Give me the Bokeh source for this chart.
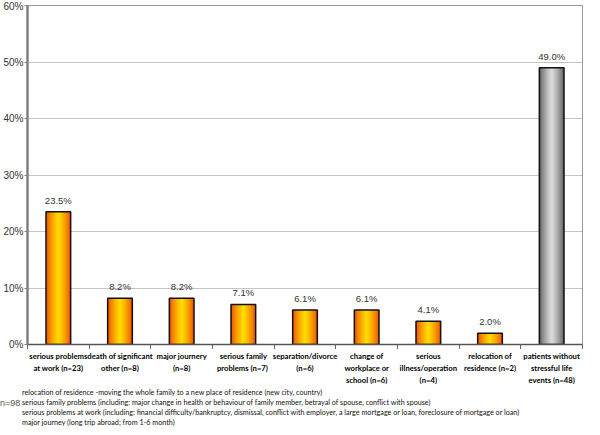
from bokeh.plotting import figure
from bokeh.layouts import column
from bokeh.models import ColumnDataSource, FixedTicker, Range1d, Div
from bokeh.core.properties import value
from bokeh.embed import file_html
from bokeh.resources import INLINE

# ---- data ----
categories = [
    "serious problems\nat work (n=23)",
    "death of significant\nother (n=8)",
    "major journery\n(n=8)",
    "serious family\nproblems  (n=7)",
    "separation/divorce\n(n=6)",
    "change of\nworkplace or\nschool (n=6)",
    "serious\nillness/operation\n(n=4)",
    "relocation of\nresidence (n=2)",
    "patients without\nstressful life\nevents (n=48)",
]
percent = [23.5, 8.2, 8.2, 7.1, 6.1, 6.1, 4.1, 2.0, 49.0]
is_reference_group = [False, False, False, False, False, False, False, False, True]
y_ticks = [0, 10, 20, 30, 40, 50, 60]
footnotes = [
    "relocation of residence -moving the whole  family  to a new place of residence (new city, country)",
    "serious family  problems (including:  major change in health or behaviour of family  member, betrayal of spouse, conflict with spouse)",
    "serious problems at work (including:  financial difficulty/bankruptcy,  dismissal,  conflict with employer,  a large mortgage or loan, foreclosure of mortgage or loan)",
    "major journey (long trip abroad; from 1-6 month)",
]
n_total = "n=98"

# ---- styles / layout constants ----
W = 584
H1, H2, H3 = 349, 36, 34
LEFT, RIGHT = 22, 2
BAR_W = 0.4
N_LEVELS = 12
LINE1_Y, LINE_PITCH = 6, 12

def mix(c1, c2, t):
    return "#%02x%02x%02x" % tuple(int(round(a + (b - a) * t)) for a, b in zip(c1, c2))

ORANGE_EDGE = (238, 80, 0)
ORANGE_MID = (255, 218, 0)
GRAY_EDGE = (95, 95, 95)
GRAY_MID = (218, 218, 218)

n_cat = len(categories)
xs = [i + 0.5 for i in range(n_cat)]
src = ColumnDataSource(dict(x=xs, top=percent, label=["%.1f%%" % v for v in percent]))

p = figure(width=W, height=H1, output_backend="svg", toolbar_location=None,
           x_range=Range1d(0, n_cat), y_range=Range1d(0, 60),
           min_border_left=LEFT, min_border_right=RIGHT, min_border_top=5, min_border_bottom=0)
p.background_fill_color = "white"
p.border_fill_color = "white"
p.outline_line_color = "#9a9a9a"
p.outline_line_width = 1

# gradient-like bars: nested bars, narrowing toward a lighter centre
for k in range(N_LEVELS):
    t = (k / (N_LEVELS - 1)) ** 0.75
    w = BAR_W * (1 - k / N_LEVELS)
    for flag, e, m in ((False, ORANGE_EDGE, ORANGE_MID), (True, GRAY_EDGE, GRAY_MID)):
        idx = [j for j, r in enumerate(is_reference_group) if r == flag]
        s = ColumnDataSource(dict(x=[xs[j] for j in idx], top=[percent[j] for j in idx]))
        p.vbar(x="x", top="top", bottom=0, width=w, source=s,
               fill_color=mix(e, m, t), line_color=None)

p.vbar(x="x", top="top", bottom=0, width=BAR_W, source=src,
       fill_color=None, line_color="#111111", line_width=1.5)

p.text(x="x", y="top", text="label", source=src, y_offset=-6,
       text_align="center", text_baseline="bottom",
       text_font=value("Liberation Sans"), text_font_size="9.5px", text_color="#333333")

# axes / grid
p.xgrid.visible = False
p.ygrid.ticker = FixedTicker(ticks=y_ticks)
p.ygrid.grid_line_color = "#8a8a8a"
p.ygrid.grid_line_dash = "1 1"
p.ygrid.grid_line_width = 1

p.yaxis.ticker = FixedTicker(ticks=y_ticks)
p.yaxis.major_label_overrides = {t: "%d%%" % t for t in y_ticks}
p.yaxis.axis_line_color = "#808080"
p.yaxis.axis_line_width = 2.5
p.yaxis.major_tick_line_color = "#808080"
p.yaxis.major_tick_out = 3
p.yaxis.major_tick_in = 0
p.yaxis.minor_tick_line_color = None
p.yaxis.major_label_text_font = "Liberation Sans"
p.yaxis.major_label_text_font_size = "10px"
p.yaxis.major_label_text_color = "#333333"
p.yaxis.major_label_standoff = 1

p.xaxis.ticker = FixedTicker(ticks=[], minor_ticks=list(range(n_cat + 1)))
p.xaxis.major_tick_line_color = None
p.xaxis.major_label_text_font_size = "0px"
p.xaxis.major_label_standoff = 0
p.xaxis.minor_tick_line_color = "#666666"
p.xaxis.minor_tick_out = 5
p.xaxis.minor_tick_in = 0
p.xaxis.axis_line_color = "#555555"
p.xaxis.axis_line_width = 1.5

# category labels, on the chart's own x scale
q = figure(width=W, height=H2, output_backend="svg", toolbar_location=None,
           x_axis_type=None, y_axis_type=None,
           x_range=p.x_range, y_range=Range1d(H2, 0),
           min_border_left=LEFT, min_border_right=RIGHT, min_border_top=0, min_border_bottom=0,
           outline_line_color=None)
q.grid.visible = False
q.border_fill_color = "white"
q.background_fill_color = "white"

lx, ly, lt = [], [], []
for x, c in zip(xs, categories):
    for j, line in enumerate(c.split("\n")):
        lx.append(x)
        ly.append(LINE1_Y + j * LINE_PITCH)
        lt.append(line)
q.text(x=lx, y=ly, text=lt, text_align="center", text_baseline="middle",
       text_font=value("Lato"), text_font_style="bold", text_font_size="7.7px",
       text_color="#000000")

# footnotes
notes_html = (
    '<div style="position:relative;width:%dpx;height:%dpx;color:#111;overflow:visible;">' % (W, H3)
    + '<div style="position:absolute;left:0px;top:13px;font-family:\'Liberation Sans\';'
      'font-size:9px;line-height:10px;color:#555;">%s</div>' % n_total
    + '<div style="position:absolute;left:%dpx;top:3px;font-family:Lato;font-size:7.2px;'
      'line-height:10px;white-space:nowrap;">%s</div>' % (LEFT, "<br>".join(footnotes))
    + '</div>'
)
notes = Div(text=notes_html, width=W, height=H3, margin=0)

layout = column(p, q, notes, spacing=0)
open("out.html", "w").write(file_html(layout, INLINE))
